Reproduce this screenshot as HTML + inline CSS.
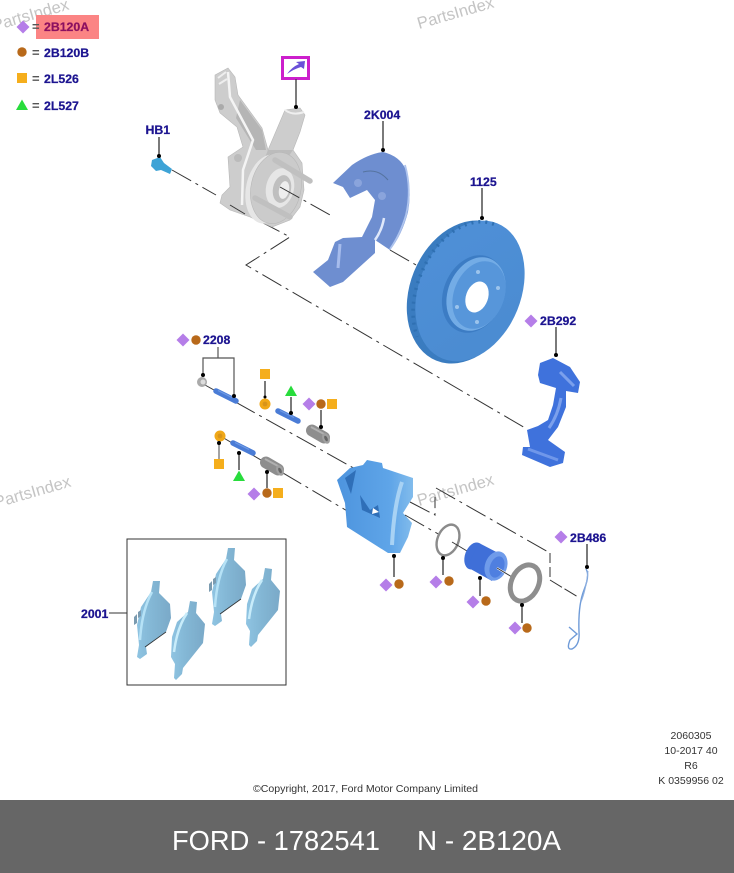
<!DOCTYPE html>
<html><head><meta charset="utf-8"><style>
html,body{margin:0;padding:0;background:#fff}
svg{display:block}
text{font-family:"Liberation Sans",Arial,sans-serif}
.l{font-weight:bold;font-size:12.3px;fill:#1c1490;stroke:#1c1490;stroke-width:.25}
.s{font-size:10.5px;fill:#333}
.w{font-size:16.5px;fill:#c4c4c4}
.d{fill:none;stroke:#333;stroke-width:1;stroke-dasharray:22 5 3 5}
.k{stroke:#222;stroke-width:1.2;fill:none}
</style></head><body>
<svg width="734" height="873" viewBox="0 0 734 873" xmlns="http://www.w3.org/2000/svg">
<defs>
<linearGradient id="disc" x1="0" y1="0" x2="1" y2="1"><stop offset="0" stop-color="#4f90d8"/><stop offset="1" stop-color="#4a8bd0"/></linearGradient>
<linearGradient id="cal" x1="0" y1="0" x2="1" y2="0"><stop offset="0" stop-color="#4d94de"/><stop offset=".7" stop-color="#5fa5e8"/><stop offset="1" stop-color="#82bcec"/></linearGradient>
<linearGradient id="pad" x1="0" y1="0" x2="1" y2="0"><stop offset="0" stop-color="#8fc4e2"/><stop offset=".4" stop-color="#84b8d6"/><stop offset="1" stop-color="#7aa9c8"/></linearGradient>
<g id="dm"><path d="M0,-6.5 6.5,0 0,6.5 -6.5,0Z" fill="#b57ee8"/></g>
<g id="ci"><circle r="4.7" fill="#b8691a"/></g>
<g id="sq"><rect x="-5" y="-5" width="10" height="10" fill="#f5ae1c"/></g>
<g id="tr"><path d="M0,-5.5 6,5 -6,5Z" fill="#28dc3c"/></g>
<g id="pin"><path d="M-10,-5 L10,5" stroke="#4a7cd6" stroke-width="5.5" stroke-linecap="round"/><path d="M-8,-5.500 L6,1.500" stroke="#6e9ae4" stroke-width="1.200"/></g>
<g id="cyl"><path d="M-6,-3.500 L6,3.500" stroke="#8e8e8e" stroke-width="12" stroke-linecap="round"/><path d="M-7,-7 L6,0" stroke="#b0b0b0" stroke-width="2"/><ellipse cx="8" cy="4.500" rx="3.500" ry="5.500" fill="#a0a0a0" transform="rotate(-25 8 4.500)"/><ellipse cx="8" cy="4.500" rx="1.500" ry="3" fill="#666" transform="rotate(-25 8 4.500)"/></g>
<g id="nut"><circle r="5.5" fill="#f0a818"/><circle r="2.4" fill="#d8941a"/></g>
<g id="pd1"><path d="M153,581 L160,581 159,593 L170,604 171,618 166,632 146,647 147,654 140,659 137,657 139,645 137,625 141,607 151,592Z" fill="url(#pad)"/><path d="M152,592 Q142,610 140,640" stroke="#b6e2f6" stroke-width="2.5" fill="none"/><path d="M145,647 L166,632" stroke="#333" stroke-width=".8"/><path d="M141,610 l-3,2 v6 l3,-2z M137,614 l-3,3 v8 l3,-2z" fill="#7b9bb0"/></g>
<g id="pd2"><path d="M190,601 L197,602 196,613 L205,624 203,643 183,668 182,674 176,680 174,678 175,664 171,657 172,637 177,622 188,612Z" fill="url(#pad)"/><path d="M187,613 Q177,628 174,652" stroke="#c8ecfa" stroke-width="2.5" fill="none"/></g>
</defs>
<rect width="734" height="873" fill="#fff"/>

<!-- watermarks -->
<text class="w" transform="translate(-6,31) rotate(-16)">PartsIndex</text>
<text class="w" transform="translate(419,29) rotate(-16)">PartsIndex</text>
<text class="w" transform="translate(-4,508) rotate(-16)">PartsIndex</text>
<text class="w" transform="translate(419,506) rotate(-16)">PartsIndex</text>

<!-- center lines -->
<path class="d" d="M172,170 L216,195"/>
<path class="d" d="M229,205 L290,237 L246,265 L527,429"/>
<path class="d" d="M390,250 L423,269"/>
<path class="d" d="M205,385 L366,475"/>
<path class="d" d="M222,437 L349,512"/>
<path class="d" d="M436,488 L550,553"/>
<path d="M550,553 V580" stroke="#333" stroke-dasharray="10 4" fill="none"/>
<path d="M550,580 L578,597" stroke="#333" fill="none" stroke-dasharray="14 3"/>

<!-- legend -->
<rect x="36" y="15" width="63" height="24" fill="#fb8484"/>
<use href="#dm" x="23" y="27"/>
<use href="#ci" x="22" y="52"/>
<use href="#sq" x="22" y="78"/>
<use href="#tr" x="22" y="105"/>
<g fill="#555" font-weight="bold">
<text x="32" y="31" style="font-size:13px">=</text><text x="32" y="57" style="font-size:13px">=</text><text x="32" y="83" style="font-size:13px">=</text><text x="32" y="110" style="font-size:13px">=</text>
</g>
<text class="l" x="44" y="31" style="fill:#8c1060;stroke:#8c1060">2B120A</text>
<text class="l" x="44" y="57">2B120B</text>
<text class="l" x="44" y="83">2L526</text>
<text class="l" x="44" y="110">2L527</text>

<!-- knuckle -->
<path d="M215,75 L228,68 235,77 238,95 262,128 268,150 285,110 300,108 305,115 300,132 293,150 302,163 304,190 300,207 290,220 272,227 250,217 230,210 220,203 222,195 230,187 228,157 243,147 237,127 220,113 215,100Z" fill="#cdcdcd" stroke="#b8b8b8" stroke-width=".6"/>
<path d="M240,100 L262,130 266,150 256,150 236,118Z" fill="#b5b5b5"/>
<path d="M228,72 L230,97 253,140 243,170 242,205" fill="none" stroke="#f4f4f4" stroke-width="2.500"/>
<path d="M218,78 L226,72 M219,84 l8,-5" stroke="#eee" stroke-width="2"/>
<path d="M285,110 Q293,116 304,112" fill="none" stroke="#efefef" stroke-width="2"/>
<path d="M268,150 L293,150 L286,160 L264,160Z" fill="#bcbcbc"/>
<circle cx="221" cy="107" r="3" fill="#aaa"/>
<circle cx="238" cy="158" r="4" fill="#bbb"/>
<ellipse cx="268" cy="189" rx="22" ry="35" fill="#e6e6e6" transform="rotate(12 268 189)"/>
<ellipse cx="276" cy="188" rx="25" ry="36" fill="#cbcbcb" stroke="#b8b8b8" stroke-width=".6" transform="rotate(12 276 188)"/>
<ellipse cx="280" cy="188" rx="14" ry="20" fill="#e6e6e6" transform="rotate(12 280 188)"/>
<ellipse cx="282" cy="189" rx="9" ry="14" fill="#bfbfbf" transform="rotate(12 282 189)"/>
<ellipse cx="284" cy="190" rx="5" ry="9" fill="#eee" transform="rotate(12 284 190)"/>
<path d="M275,160 L310,181" stroke="#c0c0c0" stroke-width="5.500" stroke-linecap="round"/>
<path d="M255,198 L290,217" stroke="#c0c0c0" stroke-width="5.500" stroke-linecap="round"/>
<path d="M230,205 L245,214" stroke="#333" stroke-width="1"/>
<path class="d" d="M280,187 L332,216"/>

<!-- magenta arrow box -->
<rect x="282.500" y="57.500" width="26" height="21" fill="#fff" stroke="#cc1fcc" stroke-width="3"/>
<path d="M287,74 Q292,67 299,64 L296,62 L305,61 L304,69 L301,67 Q294,69 287,74Z" fill="#6a50d8"/>
<path d="M296,79 V107" stroke="#444" stroke-width="1.400"/><circle cx="296" cy="107" r="2" fill="#000"/>

<!-- HB1 bolt -->
<path d="M152,160 L160,157 164,163 172,169 170,174 161,170 156,171 151,166Z" fill="#3ea3d6"/>
<text class="l" x="145.500" y="134">HB1</text>
<path d="M159,137 V155" class="k"/><circle cx="159" cy="156" r="2" fill="#000"/>

<!-- shield -->
<path d="M333,183 L352,165 Q368,154 383,152 Q400,156 406,170 Q412,190 408,212 Q402,235 390,250 L375,240 375,253 343,282 330,287 313,272 328,260 335,242 343,238 362,237 372,217 375,200 367,190 350,198 343,187Z" fill="#6e8ed0"/>
<path d="M405,165 Q412,190 406,215 Q400,235 390,249" fill="none" stroke="#aec4ee" stroke-width="1.800"/>
<path d="M384,218 Q382,230 375,240" fill="none" stroke="#dfe8fa" stroke-width="2.500"/>
<path d="M340,244 L338,268" fill="none" stroke="#a6bcec" stroke-width="3"/>
<circle cx="358" cy="183" r="4" fill="#8aa4dc"/><circle cx="382" cy="196" r="4" fill="#8aa4dc"/>
<path d="M363,172 Q378,168 388,180" fill="none" stroke="#55739f" stroke-width="1"/>
<text class="l" x="364" y="119">2K004</text>
<path d="M383,121 V150" class="k"/><circle cx="383" cy="150" r="2" fill="#000"/>

<!-- disc -->
<ellipse cx="464" cy="292" rx="54" ry="74" fill="#3a7cc0" transform="rotate(22 464 292)"/>
<ellipse cx="470" cy="291" rx="51" ry="73" fill="url(#disc)" transform="rotate(22 470 291)"/>
<path d="M467,219 A49,72 0 0 0 418,291 A49,72 0 0 0 438,352" fill="none" stroke="#2f70b2" stroke-width="3.500" stroke-dasharray="2 5" transform="rotate(22 467 291)"/>
<ellipse cx="473.500" cy="294" rx="30" ry="40" fill="#3c7cc4" transform="rotate(22 473.500 294)"/>
<ellipse cx="476" cy="294" rx="28" ry="38" fill="#73ace6" transform="rotate(22 476 294)"/>
<ellipse cx="479" cy="295" rx="25" ry="35" fill="#5796da" transform="rotate(22 479 295)"/>
<ellipse cx="477" cy="297" rx="11" ry="16" fill="#fff" transform="rotate(20 477 297)"/>
<circle cx="478" cy="272" r="2" fill="#9cc4ec"/><circle cx="498" cy="288" r="2" fill="#9cc4ec"/><circle cx="477" cy="322" r="2" fill="#9cc4ec"/><circle cx="457" cy="307" r="2" fill="#9cc4ec"/>
<text class="l" x="470" y="186">1125</text>
<path d="M482,188 V218" class="k"/><circle cx="482" cy="218" r="2" fill="#000"/>

<!-- bracket -->
<path d="M540,363 L553,358 570,367 580,382 578,393 566,391 566,407 558,427 548,440 565,452 563,463 550,467 522,455 523,447 530,447 527,430 538,426 548,420 553,405 556,388 540,383 538,375Z" fill="#3f72dc"/>
<path d="M560,372 l14,14 M561,398 Q558,415 549,428" fill="none" stroke="#7ba0ec" stroke-width="3"/>
<path d="M528,449 l30,11" stroke="#6f97ea" stroke-width="3"/>
<use href="#dm" x="531" y="321"/>
<text class="l" x="540" y="325">2B292</text>
<path d="M556,327 V355" class="k"/><circle cx="556" cy="355" r="2" fill="#000"/>

<!-- pins group -->
<use href="#dm" x="183" y="340"/><use href="#ci" x="196" y="340"/>
<text class="l" x="203" y="344">2208</text>
<path d="M218,347 V358 M203,375 V358 H234 V396" fill="none" stroke="#555" stroke-width="1.200"/>
<circle cx="202" cy="382" r="5" fill="#aaa"/><circle cx="203" cy="382" r="2.500" fill="#ddd"/>
<use href="#pin" x="226" y="396"/>
<circle cx="203" cy="375" r="2" fill="#000"/><circle cx="234" cy="396" r="2" fill="#000"/>
<use href="#sq" x="265" y="374"/><path d="M265,381 V397" class="k"/><use href="#nut" x="265" y="404"/><circle cx="265" cy="397" r="1.500" fill="#000"/>
<use href="#tr" x="291" y="391"/><path d="M291,397 V412" class="k"/>
<use href="#pin" x="288" y="416"/><circle cx="291" cy="413" r="2" fill="#000"/>
<use href="#dm" x="309" y="404"/><use href="#ci" x="321" y="404"/><use href="#sq" x="332" y="404"/>
<use href="#cyl" x="318" y="434"/>
<path d="M321,410 V427" class="k"/><circle cx="321" cy="427" r="2" fill="#000"/>

<use href="#nut" x="220" y="436"/><path d="M219,443 V459" stroke="#666" stroke-width="1.200"/><circle cx="219" cy="443" r="2" fill="#000"/><use href="#sq" x="219" y="464"/>
<use href="#pin" x="243" y="448"/><path d="M239,452 V470" class="k"/><circle cx="239" cy="453" r="2" fill="#000"/><use href="#tr" x="239" y="476"/>
<use href="#cyl" x="272" y="466"/><path d="M267,472 V488" class="k"/><circle cx="267" cy="472" r="2" fill="#000"/>
<use href="#dm" x="254" y="494"/><use href="#ci" x="267" y="493"/><use href="#sq" x="278" y="493"/>

<!-- caliper -->
<path d="M337,480 L350,468 363,465 367,460 382,463 383,468 413,478 413,497 403,513 412,523 408,537 400,553 388,553 347,527 345,503Z" fill="url(#cal)"/>
<path d="M345,478 L356,470 351,494Z M360,495 L362,510 380,518 378,505 370,510Z" fill="#2f6fb8"/>
<path d="M402,482 Q394,505 392,545" fill="none" stroke="#a8d2f4" stroke-width="4"/>
<path d="M373,508 l6,4 -7,2z" fill="#fff"/>
<path d="M394,556 V577" class="k"/><circle cx="394" cy="556" r="2" fill="#000"/>
<use href="#dm" x="386" y="585"/><use href="#ci" x="399" y="584"/>
<path class="d" d="M410,502 L435,515 L435,497"/>
<path class="d" d="M405,515 L440,535"/>

<!-- ring -->
<ellipse cx="448" cy="540" rx="10.500" ry="16" fill="none" stroke="#8b8b8b" stroke-width="2.400" transform="rotate(22 448 540)"/>
<path d="M443,558 V575" class="k"/><circle cx="443" cy="558" r="2" fill="#000"/>
<use href="#dm" x="436" y="582"/><use href="#ci" x="449" y="581"/>
<path d="M452,542 L467,551" stroke="#333"/>

<!-- piston -->
<ellipse cx="474" cy="556" rx="9" ry="14" fill="#3f6fd8" transform="rotate(20 474 556)"/>
<path d="M479,543 L504,556 L492,581 L467,567Z" fill="#3f6fd8"/>
<ellipse cx="496" cy="566" rx="11" ry="15" fill="#6f9bea" transform="rotate(20 496 566)"/>
<ellipse cx="497" cy="567" rx="7" ry="11" fill="#4f7fe0" transform="rotate(20 497 567)"/>
<path d="M497,568 L512,577" stroke="#fff" stroke-width="2"/><path d="M497,568 L512,577" stroke="#333"/>
<path d="M480,578 V596" class="k"/><circle cx="480" cy="578" r="2" fill="#000"/>
<use href="#dm" x="473" y="602"/><use href="#ci" x="486" y="601"/>

<!-- seal -->
<ellipse cx="525" cy="583" rx="13.500" ry="19" fill="none" stroke="#8e8e8e" stroke-width="5" transform="rotate(26 525 583)"/>
<path d="M522,605 V623" class="k"/><circle cx="522" cy="605" r="2" fill="#000"/>
<use href="#dm" x="515" y="628"/><use href="#ci" x="527" y="628"/>

<!-- wire -->
<path d="M586,569 Q590,575 584,590 Q578,605 579,632 Q580,645 572,649 Q566,650 570,640 L577,634 L569,627" fill="none" stroke="#6f9bd8" stroke-width="1.400"/>
<path d="M588,571 Q586,590 581,602" fill="none" stroke="#8fb0e0" stroke-width="1"/>
<use href="#dm" x="561" y="537"/>
<text class="l" x="570" y="542">2B486</text>
<path d="M587,544 V567" class="k"/><circle cx="587" cy="567" r="2" fill="#000"/>

<!-- pads box -->
<rect x="127" y="539" width="159" height="146" fill="#fff" stroke="#333" stroke-width="1"/>
<use href="#pd1"/><use href="#pd1" x="75" y="-33"/>
<use href="#pd2"/><use href="#pd2" x="75" y="-33"/>
<text class="l" x="81" y="618">2001</text>
<path d="M109,613 H127" stroke="#333" stroke-width="1"/>

<!-- footer text -->
<text class="s" x="691" y="739" text-anchor="middle">2060305</text>
<text class="s" x="691" y="754" text-anchor="middle">10-2017 40</text>
<text class="s" x="691" y="769" text-anchor="middle">R6</text>
<text class="s" x="691" y="784" text-anchor="middle">K 0359956 02</text>
<text class="s" x="253" y="792" textLength="225" lengthAdjust="spacingAndGlyphs">©Copyright, 2017, Ford Motor Company Limited</text>
<rect x="0" y="800" width="734" height="73" fill="#666"/>
<text x="172" y="850" fill="#fff" style="font-size:28px" textLength="208" lengthAdjust="spacingAndGlyphs">FORD - 1782541</text>
<text x="417" y="850" fill="#fff" style="font-size:28px" textLength="144" lengthAdjust="spacingAndGlyphs">N - 2B120A</text>
</svg>
</body></html>
